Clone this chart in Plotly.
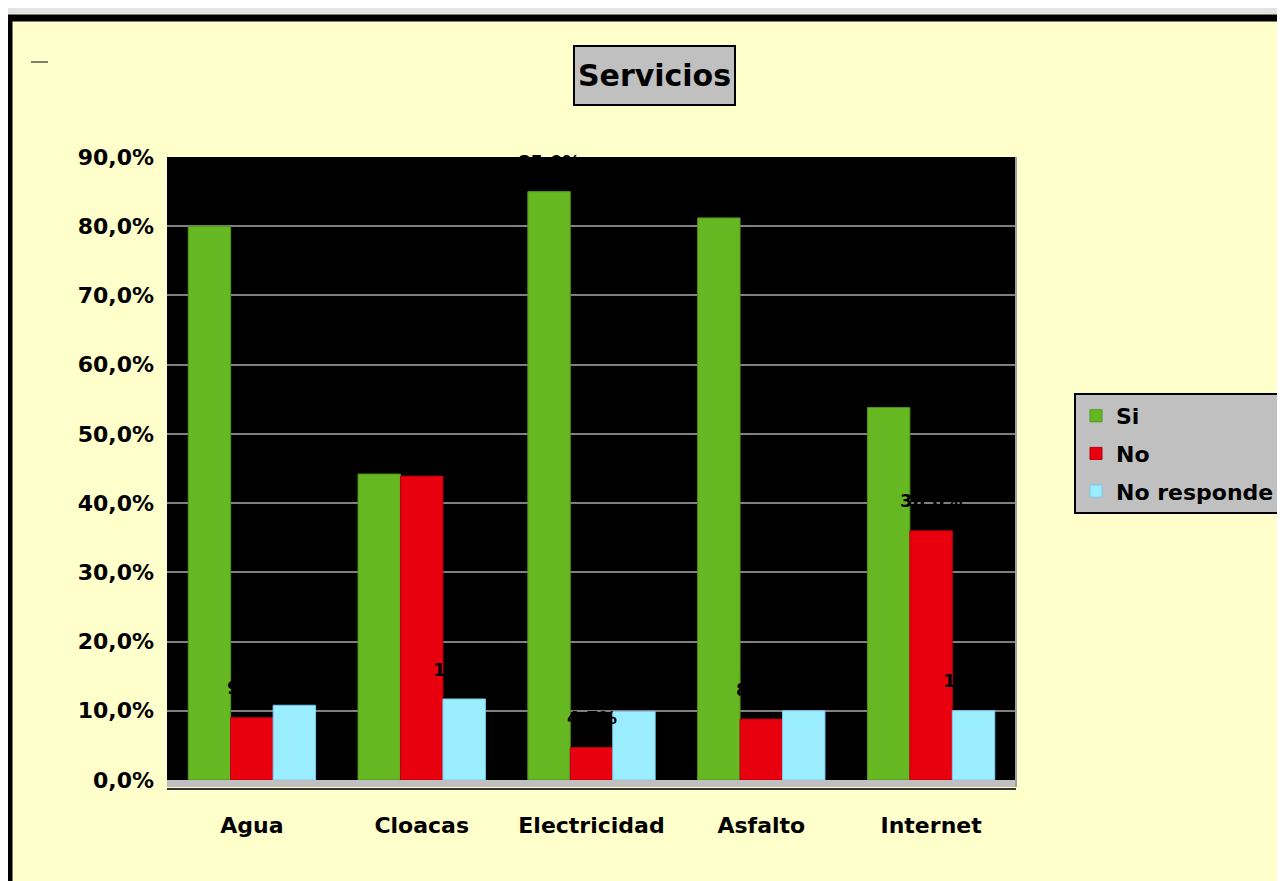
import plotly.graph_objects as go

categories = ["Agua", "Cloacas", "Electricidad", "Asfalto", "Internet"]
si = [80.0, 44.2, 85.0, 81.2, 53.8]
no = [9.0, 43.9, 4.7, 8.8, 36.0]
no_responde = [10.8, 11.7, 9.9, 10.0, 10.0]
y_ticks = [0, 10, 20, 30, 40, 50, 60, 70, 80, 90]
y_ticktext = ["0,0%", "10,0%", "20,0%", "30,0%", "40,0%", "50,0%", "60,0%", "70,0%", "80,0%", "90,0%"]

FONT = "DejaVu Sans"
W, H = 1285, 873
# the page is offset by the 8px body margin; horizontally it is shrunk to fit
OFFX, OFFY = 8, 8
SX = (1285 - OFFX) / W

# plot area in screen pixels
L, R, T, B = 166, 1015, 157, 780
Lf, Rf = (L - OFFX) / SX, (R - OFFX) / SX


def px(x):
    return (x - L) / (R - L)


def py(y):
    return (B - y) / (B - T)


def fmt(v):
    return f"{v:.1f}".replace(".", ",") + "%"


series = [
    ("Si", si, "#66B822", "#4E9419"),
    ("No", no, "#E8000F", "#B8000C"),
    ("No responde", no_responde, "#9BEEFF", "#7FC8EE"),
]

BARGAP = 0.25
bar_px = (Rf - Lf) / len(categories) * (1 - BARGAP) / len(series)

fig = go.Figure()
annotations = []
for i, (name, vals, col, edge) in enumerate(series):
    fig.add_trace(go.Bar(
        name=name, x=categories, y=vals, legendgroup=name,
        marker=dict(color=col, line=dict(color=edge, width=1)),
    ))
    for cat, v in zip(categories, vals):
        annotations.append(dict(
            x=cat, y=v, xref="x", yref="y", text=fmt(v), showarrow=False,
            xanchor="center", yanchor="middle",
            xshift=(i - 1) * bar_px, yshift=30,
            font=dict(family=FONT, size=18, color="black", weight="bold"),
        ))

annotations.append(dict(
    text="<b>Servicios</b>", xref="paper", yref="paper",
    x=px(653), y=py(75), xanchor="center", yanchor="middle",
    showarrow=False, width=157, height=55,
    bgcolor="#C0C0C0", bordercolor="black", borderwidth=2,
    font=dict(family=FONT, size=30, color="black"),
))

fig.update_layout(
    width=W, height=H,
    margin=dict(l=Lf, r=W - Rf, t=T - OFFY, b=H - (B - OFFY), pad=0),
    paper_bgcolor="#FFFFCC", plot_bgcolor="black",
    barmode="group", bargap=BARGAP, bargroupgap=0,
    separators=",.",
    showlegend=True,
    legend=dict(
        x=px(1073), y=py(393), xanchor="left", yanchor="top",
        bgcolor="#C0C0C0", bordercolor="black", borderwidth=2,
        font=dict(family=FONT, size=22, color="black", weight="bold"),
        traceorder="grouped", tracegroupgap=6,
    ),
    xaxis=dict(
        showgrid=False, zeroline=False, showline=False,
        tickfont=dict(family=FONT, size=22, color="black", weight="bold"),
        ticklabelstandoff=30,
    ),
    yaxis=dict(
        range=[0, 90], tickvals=y_ticks, ticktext=y_ticktext,
        showgrid=True, gridcolor="#808080", gridwidth=2,
        zeroline=False, showline=False,
        tickfont=dict(family=FONT, size=22, color="black", weight="bold"),
        ticklabelstandoff=12,
    ),
    annotations=annotations,
    shapes=[
        # floor
        dict(type="rect", xref="paper", yref="paper", x0=0, x1=1, y0=py(787), y1=py(780),
             fillcolor="#C0C0C0", line=dict(width=0), layer="below"),
        dict(type="line", xref="paper", yref="paper", x0=0, x1=1, y0=py(789), y1=py(789),
             line=dict(color="#333333", width=2)),
        # right wall edge
        dict(type="line", xref="paper", yref="paper", x0=1, x1=1, y0=py(787), y1=1,
             line=dict(color="#A0A0A0", width=2)),
        # top gray band
        dict(type="rect", xref="paper", yref="paper", x0=px(-5), x1=px(1300), y0=py(14), y1=py(-5),
             fillcolor="#E3E3E3", line=dict(width=0), layer="above"),
        # outer black border
        dict(type="rect", xref="paper", yref="paper", x0=px(8), x1=px(1300), y0=py(900), y1=py(18),
             fillcolor="rgba(0,0,0,0)", line=dict(color="black", width=7), layer="above"),
        # small dash
        dict(type="line", xref="paper", yref="paper", x0=px(30), x1=px(47), y0=py(62), y1=py(62),
             line=dict(color="black", width=1), layer="above"),
    ],
)

fig.write_html("out.html")
